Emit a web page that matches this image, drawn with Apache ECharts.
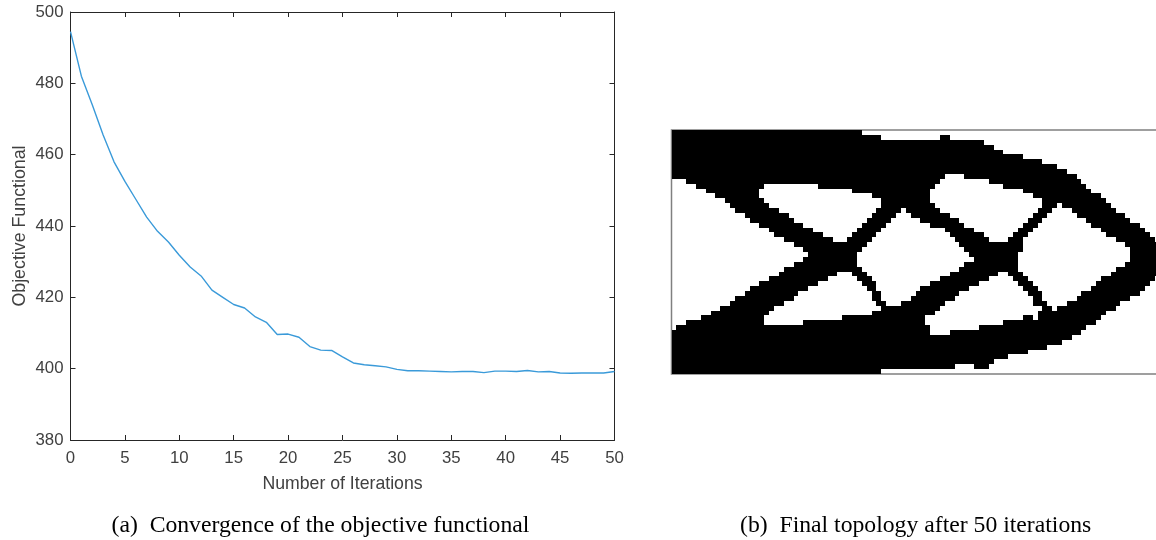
<!DOCTYPE html>
<html><head><meta charset="utf-8">
<style>html,body{margin:0;padding:0;background:#fff}#c{width:1156px;height:540px}</style>
<script src="https://cdn.jsdelivr.net/npm/echarts@6/dist/echarts.min.js"></script>
</head><body><div id="c"></div>
<script>
const objective = [494.5,482,474,465.5,458,452.5,447.5,442.5,438.5,435.5,431.8,428.5,426,422,420,418,417,414.5,413,409.6,409.7,408.8,406.2,405.2,405.1,403.3,401.6,401.1,400.8,400.5,399.8,399.4,399.4,399.3,399.2,399.1,399.2,399.2,398.9,399.3,399.3,399.2,399.5,399.1,399.2,398.8,398.7,398.8,398.8,398.8,399.2];
const xLabel = 'Number of Iterations';
const yLabel = 'Objective Functional';
const captionA = '(a)  Convergence of the objective functional';
const captionB = '(b)  Final topology after 50 iterations';
// black runs [first,last column] for each of the 50 mesh rows
const solidRuns = [
[[0,38]],[[0,42],[55,56]],[[0,63]],[[0,65]],[[0,67]],[[0,71]],[[0,75]],[[0,78]],[[0,80]],
[[0,55],[60,82]],
[[3,54],[65,83]],
[[5,18],[30,53],[68,84]],
[[7,17],[37,52],[72,85]],
[[9,17],[41,52],[74,87]],
[[11,18],[43,52],[76,88]],
[[12,19],[43,53],[76,78],[80,89]],
[[13,21],[42,46],[48,54],[75,77],[82,90]],
[[15,23],[41,45],[49,56],[74,76],[83,92]],
[[16,24],[40,44],[51,58],[73,75],[85,93]],
[[18,26],[39,43],[53,59],[72,74],[86,95]],
[[20,28],[38,42],[56,61],[71,73],[88,96]],
[[21,30],[37,41],[57,63],[70,72],[89,97]],
[[23,32],[36,40],[58,64],[69,71],[91,98]],
[[25,39],[59,71],[93,99]],
[[27,38],[60,71],[94,99]],
[[28,37],[61,70],[94,99]],
[[27,37],[62,70],[94,99]],
[[25,37],[60,70],[93,99]],
[[23,38],[59,70],[91,99]],
[[22,33],[37,39],[57,66],[69,71],[90,99]],
[[20,31],[38,40],[55,64],[70,72],[88,98]],
[[18,29],[39,41],[53,62],[71,73],[87,97]],
[[16,27],[40,41],[51,60],[72,74],[86,96]],
[[15,25],[41,42],[50,58],[73,75],[84,95]],
[[13,24],[41,42],[49,57],[74,75],[83,93]],
[[12,22],[42,43],[47,55],[74,76],[81,91]],
[[10,20],[43,54],[76,77],[79,90]],
[[8,19],[41,53],[75,88]],
[[6,18],[35,51],[72,73],[75,87]],
[[3,18],[27,51],[68,86]],
[[1,52],[63,84]],
[[0,52],[57,83]],
[[0,81]],[[0,79]],[[0,76]],[[0,72]],[[0,68]],[[0,65]],
[[0,57],[62,64]],
[[0,42]]
];
const cells = [];
solidRuns.forEach((runs,r)=>runs.forEach(([a,b])=>cells.push([a,b,r])));
const axisColor='#262626', textColor='#404040', font='"Liberation Sans",Arial,sans-serif';
const hidden={axisLine:{show:false},axisTick:{show:false},axisLabel:{show:false},splitLine:{show:false}};
const mirror={axisLabel:{show:false},splitLine:{show:false},axisTick:{inside:true,length:5,lineStyle:{color:axisColor,width:1}},axisLine:{show:true,onZero:false,lineStyle:{color:axisColor,width:1}}};
const serif={fontFamily:'"Liberation Serif",serif',fontSize:23.7,fontWeight:'normal',color:'#000'};
const chart=echarts.init(document.getElementById('c'),null,{renderer:'canvas'});
chart.setOption({
 animation:false,backgroundColor:'#fff',
 title:[
  {text:captionA,left:111.5,top:514,textStyle:serif,padding:0},
  {text:captionB,left:740,top:514,textStyle:serif,padding:0}
 ],
 grid:[
  {left:70.5,top:12,width:544,height:428,show:false,outerBoundsMode:'none'},
  {left:671.5,top:130,width:488,height:244,show:true,borderColor:'#808080',borderWidth:1.5,backgroundColor:'transparent',outerBoundsMode:'none'}
 ],
 xAxis:[
  {type:'value',gridIndex:0,min:0,max:50,interval:5,position:'bottom',name:xLabel,nameLocation:'middle',nameGap:35,
   nameTextStyle:{fontFamily:font,fontSize:17.7,color:textColor},
   axisLine:{onZero:false,lineStyle:{color:axisColor,width:1}},axisTick:{inside:true,length:5,lineStyle:{color:axisColor}},
   axisLabel:{fontFamily:font,fontSize:16.8,color:textColor,margin:10},splitLine:{show:false}},
  {type:'value',gridIndex:0,min:0,max:50,interval:5,position:'top',...mirror},
  {type:'value',gridIndex:1,min:0,max:100,...hidden}
 ],
 yAxis:[
  {type:'value',gridIndex:0,min:380,max:500,interval:20,position:'left',name:yLabel,nameLocation:'middle',nameGap:41,
   nameTextStyle:{fontFamily:font,fontSize:17.8,color:textColor},
   axisLine:{onZero:false,lineStyle:{color:axisColor,width:1}},axisTick:{inside:true,length:5,lineStyle:{color:axisColor}},
   axisLabel:{fontFamily:font,fontSize:16.8,color:textColor,margin:7},splitLine:{show:false}},
  {type:'value',gridIndex:0,min:380,max:500,interval:20,position:'right',...mirror},
  {type:'value',gridIndex:1,min:0,max:50,inverse:true,...hidden}
 ],
 series:[
  {type:'line',xAxisIndex:0,yAxisIndex:0,data:objective.map((v,i)=>[i,v]),showSymbol:false,symbol:'none',smooth:false,lineStyle:{color:'#3a9ad9',width:1.4},silent:true,z:3},
  {type:'custom',xAxisIndex:2,yAxisIndex:2,data:cells,silent:true,clip:false,encode:{x:[0,1],y:2},
   renderItem:(params,api)=>{
     const p0=api.coord([api.value(0),api.value(2)]);
     const p1=api.coord([api.value(1)+1,api.value(2)+1]);
     const x=Math.round(p0[0]),y=Math.round(p0[1]);
     return {type:'rect',shape:{x,y,width:Math.round(p1[0])-x,height:Math.round(p1[1])-y},style:{fill:'#000'}};
   }}
 ]
});
</script></body></html>
